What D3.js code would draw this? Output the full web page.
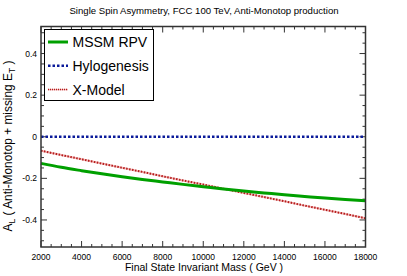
<!DOCTYPE html>
<html>
<head>
<meta charset="utf-8">
<script src="https://cdn.jsdelivr.net/npm/d3@7"></script>
<style>
  body { margin: 0; background: #fff; }
  text { font-family: "Liberation Sans", Arial, sans-serif; fill: #000; }
</style>
</head>
<body>
<div id="chart"></div>
<script>
/* chart values */
let masses = [2000, 3000, 4000, 5000, 6000, 7000, 8000, 9000, 10000,
              11000, 12000, 13000, 14000, 15000, 16000, 17000, 18000];
let mssmRpv = [-0.128, -0.147, -0.163, -0.178, -0.192, -0.205, -0.217, -0.229, -0.240,
               -0.251, -0.261, -0.270, -0.279, -0.287, -0.295, -0.302, -0.308];
let hylogenesis = [0, 0, 0, 0, 0, 0, 0, 0, 0, 0, 0, 0, 0, 0, 0, 0, 0];
let xModel = [-0.067, -0.088, -0.108, -0.129, -0.149, -0.169, -0.190, -0.210, -0.230,
              -0.250, -0.270, -0.290, -0.310, -0.331, -0.351, -0.371, -0.392];
let seriesNames = ["MSSM RPV", "Hylogenesis", "X-Model"];
let xTicks = [2000, 4000, 6000, 8000, 10000, 12000, 14000, 16000, 18000];
let yTicks = [-0.4, -0.2, 0, 0.2, 0.4];

/* dimensions */
let width = 407;
let height = 276;
let margin = {top: 26.5, bottom: 29, right: 41.5, left: 41};
let pWidth = width - margin.left - margin.right;
let pHeight = height - margin.top - margin.bottom;

let svg = d3.select("#chart")
            .append("svg")
              .attr("width", width)
              .attr("height", height);

let xScale = d3.scaleLinear()
               .domain([2000, 18000])
               .range([0, pWidth]);

let yScale = d3.scaleLinear()
               .domain([-0.53, 0.53])
               .range([pHeight, 0]);

let plot = svg.append("g")
              .attr("transform", `translate(${margin.left}, ${margin.top})`);

// minor / major ticks on all four sides, pointing inwards
let xMinor = d3.range(2000, 18001, 500);
let yMinor = d3.range(-0.5, 0.51, 0.05);
let tickCol = "#333";

function isMajorX(v) { return v % 2000 === 0; }
function isMajorY(v) { return Math.abs(Math.round(v * 100)) % 20 === 0; }

let ticks = plot.append("g").attr("stroke", tickCol).attr("stroke-width", 1);

ticks.selectAll(".xb").data(xMinor).enter().append("line")
     .attr("x1", d => xScale(d)).attr("x2", d => xScale(d))
     .attr("y1", pHeight).attr("y2", d => pHeight - (isMajorX(d) ? 6 : 3));
ticks.selectAll(".xt").data(xMinor).enter().append("line")
     .attr("x1", d => xScale(d)).attr("x2", d => xScale(d))
     .attr("y1", 0).attr("y2", d => (isMajorX(d) ? 6 : 3));
ticks.selectAll(".yl").data(yMinor).enter().append("line")
     .attr("y1", d => yScale(d)).attr("y2", d => yScale(d))
     .attr("x1", 0).attr("x2", d => (isMajorY(d) ? 6 : 3));
ticks.selectAll(".yr").data(yMinor).enter().append("line")
     .attr("y1", d => yScale(d)).attr("y2", d => yScale(d))
     .attr("x1", pWidth).attr("x2", d => pWidth - (isMajorY(d) ? 6 : 3));

// tick labels
plot.append("g")
    .selectAll("text")
    .data(xTicks)
    .enter()
    .append("text")
      .attr("x", d => xScale(d))
      .attr("y", pHeight + 13)
      .attr("text-anchor", "middle")
      .style("font-size", "8.5px")
      .text(d => d);

plot.append("g")
    .selectAll("text")
    .data(yTicks)
    .enter()
    .append("text")
      .attr("x", -4)
      .attr("y", d => yScale(d) + 3)
      .attr("text-anchor", "end")
      .style("font-size", "8.5px")
      .text(d => d);

// lines
let pts = (vals) => masses.map((m, i) => [m, vals[i]]);
let line = d3.line().x(d => xScale(d[0])).y(d => yScale(d[1]));

plot.append("path")
    .attr("d", line(pts(hylogenesis)))
    .attr("fill", "none")
    .attr("stroke", "#0a1a9a")
    .attr("stroke-width", 2.5)
    .attr("stroke-dasharray", "2.5,2");

plot.append("path")
    .attr("d", line(pts(xModel)))
    .attr("fill", "none")
    .attr("stroke", "#f2b8b8")
    .attr("stroke-width", 2);
plot.append("path")
    .attr("d", line(pts(xModel)))
    .attr("fill", "none")
    .attr("stroke", "#b51c1c")
    .attr("stroke-width", 2)
    .attr("stroke-dasharray", "1.5,1.5");

plot.append("path")
    .attr("d", d3.line().curve(d3.curveMonotoneX)
                 .x(d => xScale(d[0])).y(d => yScale(d[1]))(pts(mssmRpv)))
    .attr("fill", "none")
    .attr("stroke", "#00a000")
    .attr("stroke-width", 3);

// frame
plot.append("rect")
    .attr("width", pWidth)
    .attr("height", pHeight)
    .attr("fill", "none")
    .attr("stroke", tickCol)
    .attr("stroke-width", 1.5);

// legend
let legend = svg.append("g");
legend.append("rect")
      .attr("x", 44.5).attr("y", 29.5)
      .attr("width", 109).attr("height", 71)
      .attr("fill", "#fff")
      .attr("stroke", "#000")
      .attr("stroke-width", 1);

let legendStyles = [
  {stroke: "#00a000", width: 3, dash: null},
  {stroke: "#0a1a9a", width: 2.5, dash: "2.5,2"},
  {stroke: "#b51c1c", width: 1.5, dash: "1,1"}
];
seriesNames.forEach((name, i) => {
  let ly = 42 + i * 23.8;
  if (i === 2) {
    legend.append("line")
          .attr("x1", 48).attr("x2", 68).attr("y1", ly).attr("y2", ly)
          .attr("stroke", "#f2b8b8").attr("stroke-width", 1.5);
  }
  legend.append("line")
        .attr("x1", 48).attr("x2", 68).attr("y1", ly).attr("y2", ly)
        .attr("stroke", legendStyles[i].stroke)
        .attr("stroke-width", legendStyles[i].width)
        .attr("stroke-dasharray", legendStyles[i].dash);
  legend.append("text")
        .attr("x", 72.5)
        .attr("y", ly + 5.2)
        .style("font-size", "14px")
        .text(name);
});

// titles
svg.append("text")
   .attr("x", 204)
   .attr("y", 13.5)
   .attr("text-anchor", "middle")
   .style("font-size", "9.6px")
   .text("Single Spin Asymmetry, FCC 100 TeV, Anti-Monotop production");

svg.append("text")
   .attr("x", 204)
   .attr("y", 270.5)
   .attr("text-anchor", "middle")
   .style("font-size", "10.5px")
   .text("Final State Invariant Mass ( GeV )");

let yTitle = svg.append("text")
   .attr("transform", "translate(11.5, 146) rotate(-90)")
   .attr("text-anchor", "middle")
   .style("font-size", "11.9px");
yTitle.append("tspan").text("A");
yTitle.append("tspan").attr("dy", 3.5).style("font-size", "8.5px").text("L");
yTitle.append("tspan").attr("dy", -3.5).text(" ( Anti-Monotop + missing E");
yTitle.append("tspan").attr("dy", 3.5).style("font-size", "8.5px").text("T");
yTitle.append("tspan").attr("dy", -3.5).text(" )");
</script>
</body>
</html>
